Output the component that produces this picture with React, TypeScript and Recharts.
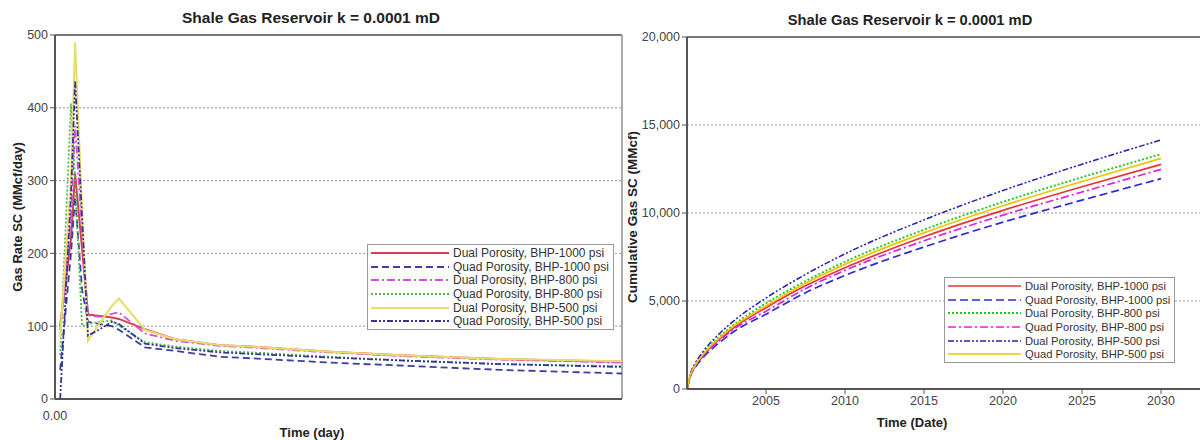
import { LineChart, Line, XAxis, YAxis, CartesianGrid, ReferenceLine } from 'recharts';

// ---- left chart: gas rate vs time (day)
const rateTimes = [100, 310, 390, 525, 640, 873, 1105, 1240, 1745, 2330, 3200, 3780, 5335, 6690, 8630, 11000];
const rateDual1000 = [100, 220, 310, 206, 116, 114, 112, 110, 96, 82, 74, 72, 65, 60, 55, 51];
const rateQuad1000 = [40, 200, 278, 150, 106, 103, 100, 95, 71, 66, 58, 56, 50, 46, 40, 35];
const rateDual800 = [95, 250, 375, 230, 115, 113, 117, 119, 90, 80, 73, 71, 64, 59, 54, 50];
const rateQuad800 = [60, 406, 300, 100, 103, 106, 108, 101, 78, 72, 66, 64, 58, 53, 48, 45];
const rateDual500 = [85, 300, 490, 260, 80, 105, 128, 138, 95, 82, 74, 72, 65, 60, 55, 52];
const rateQuad500 = [0, 280, 437, 250, 87, 96, 106, 103, 76, 70, 64, 62, 57, 53, 48, 44];
const rateYTicks = [0, 100, 200, 300, 400, 500];

// ---- right chart: cumulative gas vs date
const cumYears = [2000, 2000.25, 2000.5, 2001, 2002, 2003, 2005, 2007.5, 2010, 2015, 2020, 2025, 2030];
const cumDual1000 = [0, 875, 1290, 1900, 2790, 3510, 4620, 5860, 6890, 8650, 10150, 11490, 12760];
const cumQuad1000 = [0, 815, 1200, 1770, 2600, 3280, 4250, 5470, 6450, 8070, 9480, 10730, 11950];
const cumDual800 = [0, 915, 1350, 1990, 2920, 3670, 4870, 6130, 7230, 9050, 10630, 12030, 13340];
const cumQuad800 = [0, 850, 1250, 1850, 2720, 3420, 4420, 5700, 6740, 8420, 9880, 11190, 12480];
const cumDual500 = [0, 970, 1430, 2110, 3100, 3900, 5170, 6510, 7680, 9610, 11280, 12770, 14150];
const cumQuad500 = [0, 895, 1320, 1950, 2860, 3600, 4720, 6010, 7080, 8870, 10410, 11790, 13100];
const cumYTicks = [0, 5000, 10000, 15000, 20000];
const cumXTicks = [2005, 2010, 2015, 2020, 2025, 2030];

const title = 'Shale Gas Reservoir k = 0.0001 mD';
const FONT = '"Liberation Sans", Arial, sans-serif';

type SeriesDef = { key: string; name: string; color: string; dash?: string; width: number };

const rateSeries: SeriesDef[] = [
  { key: 'd1000', name: 'Dual Porosity, BHP-1000 psi', color: '#d8404f', width: 2 },
  { key: 'q1000', name: 'Quad Porosity, BHP-1000 psi', color: '#3b3fa0', dash: '7 4', width: 1.8 },
  { key: 'd800', name: 'Dual Porosity, BHP-800 psi', color: '#d84cd8', dash: '8 3 2 3', width: 1.8 },
  { key: 'q800', name: 'Quad Porosity, BHP-800 psi', color: '#4cb84c', dash: '2 2', width: 1.8 },
  { key: 'd500', name: 'Dual Porosity, BHP-500 psi', color: '#e6de6a', width: 2 },
  { key: 'q500', name: 'Quad Porosity, BHP-500 psi', color: '#353595', dash: '6 2 2 2 2 2', width: 1.8 },
];

const cumSeries: SeriesDef[] = [
  { key: 'd1000', name: 'Dual Porosity, BHP-1000 psi', color: '#e8333a', width: 1.7 },
  { key: 'q1000', name: 'Quad Porosity, BHP-1000 psi', color: '#2b2bd9', dash: '8 4', width: 1.7 },
  { key: 'd800', name: 'Dual Porosity, BHP-800 psi', color: '#22c822', dash: '2 2', width: 1.9 },
  { key: 'q800', name: 'Quad Porosity, BHP-800 psi', color: '#e020e0', dash: '8 3 2 3', width: 1.7 },
  { key: 'd500', name: 'Dual Porosity, BHP-500 psi', color: '#2020b0', dash: '6 2 2 2 2 2', width: 1.5 },
  { key: 'q500', name: 'Quad Porosity, BHP-500 psi', color: '#f2c400', width: 1.7 },
];

const rateData = rateTimes.map((t, i) => ({
  t,
  d1000: rateDual1000[i],
  q1000: rateQuad1000[i],
  d800: rateDual800[i],
  q800: rateQuad800[i],
  d500: rateDual500[i],
  q500: rateQuad500[i],
}));

const cumData = cumYears.map((t, i) => ({
  t,
  d1000: cumDual1000[i],
  q1000: cumQuad1000[i],
  d800: cumDual800[i],
  q800: cumQuad800[i],
  d500: cumDual500[i],
  q500: cumQuad500[i],
}));

const tickStyle = { fontSize: 12.5, fill: '#444', fontFamily: FONT };
const axisLine = { stroke: '#555', strokeWidth: 2 };

function LegendBox({ items, left, top, sample, size }: { items: SeriesDef[]; left: number; top: number; sample: number; size: number }) {
  return (
    <div style={{ position: 'absolute', left, top, border: '1.5px solid #999', background: '#fff', padding: '1px 4px 1px 3px', fontFamily: FONT, fontSize: size, color: '#333' }}>
      {items.map(s => (
        <div key={s.key} style={{ display: 'flex', alignItems: 'center', height: 13.7, whiteSpace: 'nowrap' }}>
          <svg width={sample} height={6} style={{ marginRight: 4 }}>
            <line x1={0} y1={3} x2={sample} y2={3} stroke={s.color} strokeWidth={s.width} strokeDasharray={s.dash} />
          </svg>
          <span>{s.name}</span>
        </div>
      ))}
    </div>
  );
}

const txt = (left: number, top: number, text: string, size: number, rotate = false) => (
  <div style={{
    position: 'absolute', left, top, fontFamily: FONT, fontWeight: 'bold', fontSize: size, color: '#222',
    whiteSpace: 'nowrap', transform: rotate ? 'translate(-50%, -50%) rotate(-90deg)' : 'translate(-50%, -50%)',
  }}>{text}</div>
);

export default function App() {
  return (
    <div style={{ position: 'absolute', left: 0, top: 0, width: 1200, height: 440, overflow: 'hidden', background: '#fff' }}>
      <div style={{ position: 'absolute', left: 0, top: 0 }}>
        <LineChart width={640} height={440} data={rateData} margin={{ top: 35, right: 18, left: 15, bottom: 11 }}>
          <CartesianGrid vertical={false} stroke="#999" strokeDasharray="2 2" />
          <XAxis dataKey="t" type="number" domain={[0, 11000]} ticks={[0]} tickFormatter={(v: number) => v.toFixed(2)}
            axisLine={axisLine} tickLine={false} tick={tickStyle} height={30} tickMargin={6} />
          <YAxis type="number" domain={[0, 500]} ticks={rateYTicks} width={40} axisLine={axisLine}
            tickLine={{ stroke: '#555' }} tickSize={5} tick={tickStyle} />
          <ReferenceLine y={500} stroke="#777" strokeWidth={2} />
          <ReferenceLine x={11000} stroke="#aaa" strokeWidth={2} />
          {rateSeries.map(s => (
            <Line key={s.key} dataKey={s.key} name={s.name} stroke={s.color} strokeWidth={s.width}
              strokeDasharray={s.dash} dot={false} type="linear" isAnimationActive={false} />
          ))}
        </LineChart>
      </div>
      <div style={{ position: 'absolute', left: 600, top: 0 }}>
        <LineChart width={640} height={440} data={cumData} margin={{ top: 37, right: 0, left: 27, bottom: 21 }}>
          <CartesianGrid vertical={false} stroke="#999" strokeDasharray="2 2" />
          <XAxis dataKey="t" type="number" domain={[2000, 2035]} ticks={cumXTicks} axisLine={axisLine}
            tickLine={{ stroke: '#555' }} tickSize={5} tick={tickStyle} height={30} />
          <YAxis type="number" domain={[0, 20000]} ticks={cumYTicks} width={60} axisLine={axisLine}
            tickLine={{ stroke: '#555' }} tickSize={5} tick={tickStyle}
            tickFormatter={(v: number) => v.toLocaleString('en-US')} />
          <ReferenceLine y={20000} stroke="#777" strokeWidth={2} />
          {cumSeries.map(s => (
            <Line key={s.key} dataKey={s.key} name={s.name} stroke={s.color} strokeWidth={s.width}
              strokeDasharray={s.dash} dot={false} type="monotone" isAnimationActive={false} />
          ))}
        </LineChart>
      </div>

      {txt(311, 18, title, 15.5)}
      {txt(910, 20, title, 14.7)}
      {txt(17, 217, 'Gas Rate SC (MMcf/day)', 13, true)}
      {txt(632, 217, 'Cumulative Gas SC (MMcf)', 13.5, true)}
      {txt(312, 432, 'Time (day)', 13)}
      {txt(912, 422, 'Time (Date)', 13)}

      <LegendBox items={rateSeries} left={367} top={244} sample={78} size={12} />
      <LegendBox items={cumSeries} left={944} top={277} sample={73} size={11.2} />
    </div>
  );
}
